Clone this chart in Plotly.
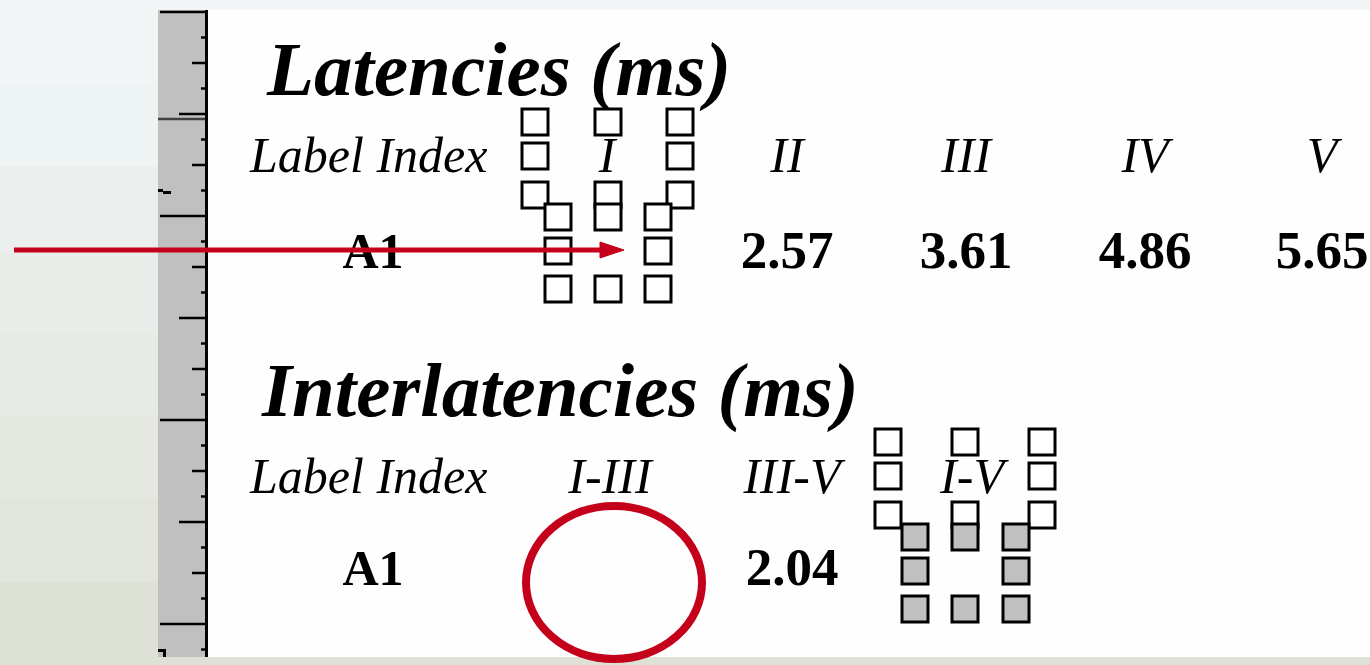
import plotly.graph_objects as go

# table content
lat_columns = ["I", "II", "III", "IV", "V"]
lat_values = ["", "2.57", "3.61", "4.86", "5.65"]
inter_columns = ["I-III", "III-V", "I-V"]
inter_values = ["", "2.04", ""]
row_label = "A1"

W, H = 1370, 665
RED = "#c4001a"
SERIF = "Liberation Serif, Times New Roman, serif"

fig = go.Figure()
shapes = []

# background (soft gradient standing in for the photo texture)
bands = [(241, 245, 246), (238, 243, 243), (235, 240, 238), (233, 237, 233),
         (231, 235, 229), (229, 232, 224), (226, 229, 219), (222, 225, 214)]
bh = H / len(bands)
for i, c in enumerate(bands):
    shapes.append(dict(type="rect", x0=0, x1=W, y0=i * bh, y1=(i + 1) * bh + 1,
                       fillcolor="rgb(%d,%d,%d)" % c, line_width=0, layer="below"))

# white sheet + grey ruler
shapes.append(dict(type="rect", x0=158, x1=W, y0=10, y1=657,
                   fillcolor="#fefefe", line_width=0, layer="below"))
shapes.append(dict(type="rect", x0=158, x1=205, y0=10, y1=657,
                   fillcolor="#c0c0c0", line_width=0, layer="below"))
shapes.append(dict(type="line", x0=206.5, x1=206.5, y0=10, y1=657,
                   line=dict(color="black", width=3), layer="below"))
tick_start = {0: 160, 4: 179, 2: 192, 6: 192}
for i in range(26):
    y = 12 + 25.5 * i
    x0 = tick_start.get(i % 8, 201)
    shapes.append(dict(type="line", x0=x0, x1=206, y0=y, y1=y,
                       line=dict(color="black", width=2.5), layer="below"))
shapes.append(dict(type="line", x0=158, x1=205, y0=119, y1=119,
                   line=dict(color="#404040", width=2.5), layer="below"))
for (x0, x1, y0, y1) in [(158, 163, 189, 192), (163, 171, 191, 194),
                         (158, 166, 649, 652), (163, 166, 652, 657)]:
    shapes.append(dict(type="rect", x0=x0, x1=x1, y0=y0, y1=y1,
                       fillcolor="black", line_width=0, layer="below"))


def handles(xs, ys, size, fill):
    out = []
    for r, y in enumerate(ys):
        for c, x in enumerate(xs):
            if r == 1 and c == 1:
                continue
            out.append(dict(type="rect", x0=x, x1=x + size, y0=y, y1=y + size,
                            fillcolor=fill, line=dict(color="black", width=3),
                            layer="above"))
    return out


# selection handles over the "I" column and the "I-V" column
shapes += handles([522, 595, 667], [109, 143, 182], 26, "white")
shapes += handles([545, 595, 645], [204, 238, 276], 26, "white")
shapes += handles([875, 952, 1029], [429, 463, 502], 26, "white")
shapes += handles([902, 952, 1003], [524, 558, 596], 26, "#c0c0c0")

# red arrow and red circle
shapes.append(dict(type="line", x0=14, x1=602, y0=250, y1=250,
                   line=dict(color=RED, width=5), layer="above"))
shapes.append(dict(type="path", path="M 600 242 L 624 250 L 600 258 Z",
                   fillcolor=RED, line=dict(color=RED, width=1), layer="above"))
shapes.append(dict(type="circle", x0=526, x1=702, y0=506, y1=659,
                   line=dict(color=RED, width=8), layer="above"))


def text_trace(xs, ys, texts, size, style, weight, pos="middle center"):
    return go.Scatter(x=xs, y=ys, text=texts, mode="text", textposition=pos,
                      textfont=dict(family=SERIF, size=size, color="black",
                                    style=style, weight=weight),
                      hoverinfo="skip", showlegend=False)


# titles
fig.add_trace(text_trace([267], [76], ["Latencies (ms)"], 77, "italic", "bold", "middle right"))
fig.add_trace(text_trace([262], [397], ["Interlatencies (ms)"], 77, "italic", "bold", "middle right"))

# latencies table
lat_x = [607, 787, 966, 1145, 1322]
fig.add_trace(text_trace([250], [159], ["Label Index"], 50, "italic", "normal", "middle right"))
fig.add_trace(text_trace(lat_x, [159] * len(lat_columns), lat_columns, 50, "italic", "normal"))
fig.add_trace(text_trace([373], [255], [row_label], 50, "normal", "bold"))
fig.add_trace(text_trace(lat_x, [255] * len(lat_values), lat_values, 53, "normal", "bold"))

# interlatencies table
inter_x = [610, 792, 972]
fig.add_trace(text_trace([250], [480], ["Label Index"], 50, "italic", "normal", "middle right"))
fig.add_trace(text_trace(inter_x, [480] * len(inter_columns), inter_columns, 50, "italic", "normal"))
fig.add_trace(text_trace([373], [572], [row_label], 50, "normal", "bold"))
fig.add_trace(text_trace(inter_x, [572] * len(inter_values), inter_values, 53, "normal", "bold"))

fig.update_layout(
    width=W, height=H,
    margin=dict(l=0, r=0, t=0, b=0),
    paper_bgcolor="#eef2f0", plot_bgcolor="#eef2f0",
    shapes=shapes,
    xaxis=dict(range=[0, W], visible=False, fixedrange=True),
    yaxis=dict(range=[H, 0], visible=False, fixedrange=True),
)

fig.write_html("out.html", config={"displayModeBar": False},
               post_script="document.body.style.margin='0';")
